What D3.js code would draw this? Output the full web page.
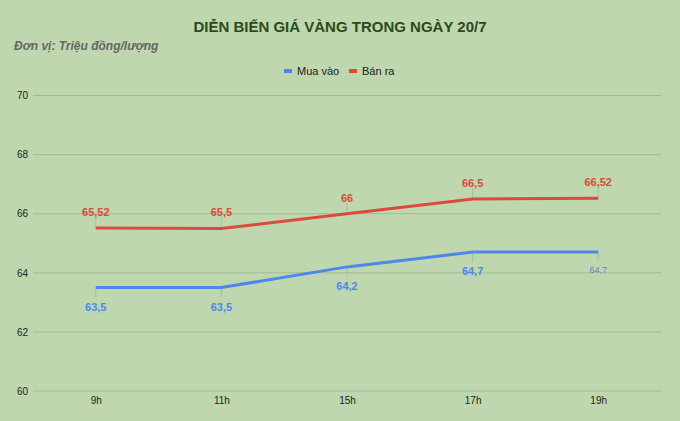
<!DOCTYPE html>
<html><head><meta charset="utf-8">
<script src="https://cdn.jsdelivr.net/npm/d3@7"></script>
<style>
html,body{margin:0;padding:0;background:#bed7ae;}
svg{display:block;font-family:Arial,"Liberation Sans",sans-serif;}
</style></head>
<body><svg id="c" width="680" height="421"></svg>
<script>
const categories = ["9h","11h","15h","17h","19h"];
const muaVao = [63.5, 63.5, 64.2, 64.7, 64.7];
const banRa = [65.52, 65.5, 66, 66.5, 66.52];
const muaLabels = ["63,5","63,5","64,2","64,7","64,7"];
const banLabels = ["65,52","65,5","66","66,5","66,52"];
const yTicks = [60,62,64,66,68,70];
const seriesNames = ["Mua vào","Bán ra"];
const colors = ["#4f86ec","#dc4a3c"];

const svg = d3.select("#c");
svg.append("rect").attr("width",680).attr("height",421).attr("fill","#bed7ae");

const L=33, R=661, T=95.5, B=391;
const x = d3.scalePoint().domain(categories).range([L,R]).padding(0.5);
const y = d3.scaleLinear().domain([60,70]).range([B,T]);

// grid
svg.append("g").selectAll("line").data(yTicks).join("line")
  .attr("x1",L).attr("x2",R).attr("y1",d=>y(d)).attr("y2",d=>y(d))
  .attr("stroke","#a2bb95").attr("stroke-width",1);

// y axis labels
const yAxis = d3.axisLeft(y).tickValues(yTicks).tickSize(0).tickPadding(5);
const ya = svg.append("g").attr("transform",`translate(${L},0)`).call(yAxis);
ya.select(".domain").remove();
ya.selectAll("text").attr("font-size",10).attr("fill","#222").attr("font-family","Arial,'Liberation Sans',sans-serif");

// x axis labels
const xAxis = d3.axisBottom(x).tickSize(0).tickPadding(6);
const xa = svg.append("g").attr("transform",`translate(0,${B})`).call(xAxis);
xa.select(".domain").remove();
xa.selectAll("text").attr("font-size",10).attr("fill","#222").attr("font-family","Arial,'Liberation Sans',sans-serif");

// title
svg.append("text").attr("x",340).attr("y",32).attr("text-anchor","middle")
  .attr("font-size",15).attr("font-weight","bold").attr("fill","#2b4a1c")
  .text("DIỄN BIẾN GIÁ VÀNG TRONG NGÀY 20/7");
svg.append("text").attr("x",14).attr("y",50)
  .attr("font-size",12).attr("font-weight","bold").attr("font-style","italic").attr("fill","#666")
  .text("Đơn vị: Triệu đồng/lượng");

// legend
const lg = svg.append("g");
const legendX = [284, 349];
seriesNames.forEach((n,i)=>{
  lg.append("rect").attr("x",legendX[i]).attr("y",69).attr("width",8).attr("height",4).attr("fill",colors[i]);
  lg.append("text").attr("x",legendX[i]+13).attr("y",75).attr("font-size",11).attr("fill","#222").text(n);
});

const line = d3.line().x((d,i)=>x(categories[i])).y(d=>y(d));

// leader lines
const lead = svg.append("g").attr("stroke","#a6c298").attr("stroke-width",1);
banRa.forEach((v,i)=>{
  lead.append("line").attr("x1",x(categories[i])).attr("x2",x(categories[i])).attr("y1",y(v)).attr("y2",y(v)-11);
});
muaVao.forEach((v,i)=>{
  lead.append("line").attr("x1",x(categories[i])).attr("x2",x(categories[i])).attr("y1",y(v)).attr("y2",y(v)+10);
});

svg.append("path").datum(muaVao).attr("d",line).attr("fill","none").attr("stroke",colors[0]).attr("stroke-width",3);
svg.append("path").datum(banRa).attr("d",line).attr("fill","none").attr("stroke",colors[1]).attr("stroke-width",3);

// data labels
svg.append("g").selectAll("text").data(banRa).join("text")
  .attr("x",(d,i)=>x(categories[i])).attr("y",d=>y(d)-12)
  .attr("text-anchor","middle").attr("font-size",11).attr("font-weight","bold").attr("fill",colors[1])
  .text((d,i)=>banLabels[i]);
svg.append("g").selectAll("text").data(muaVao).join("text")
  .attr("x",(d,i)=>x(categories[i])).attr("y",(d,i)=>y(d)+(i===4?21:23))
  .attr("text-anchor","middle").attr("font-size",(d,i)=>i===4?9:11)
  .attr("font-weight",(d,i)=>i===4?"normal":"bold").attr("fill",colors[0])
  .text((d,i)=>muaLabels[i]);
</script></body></html>
